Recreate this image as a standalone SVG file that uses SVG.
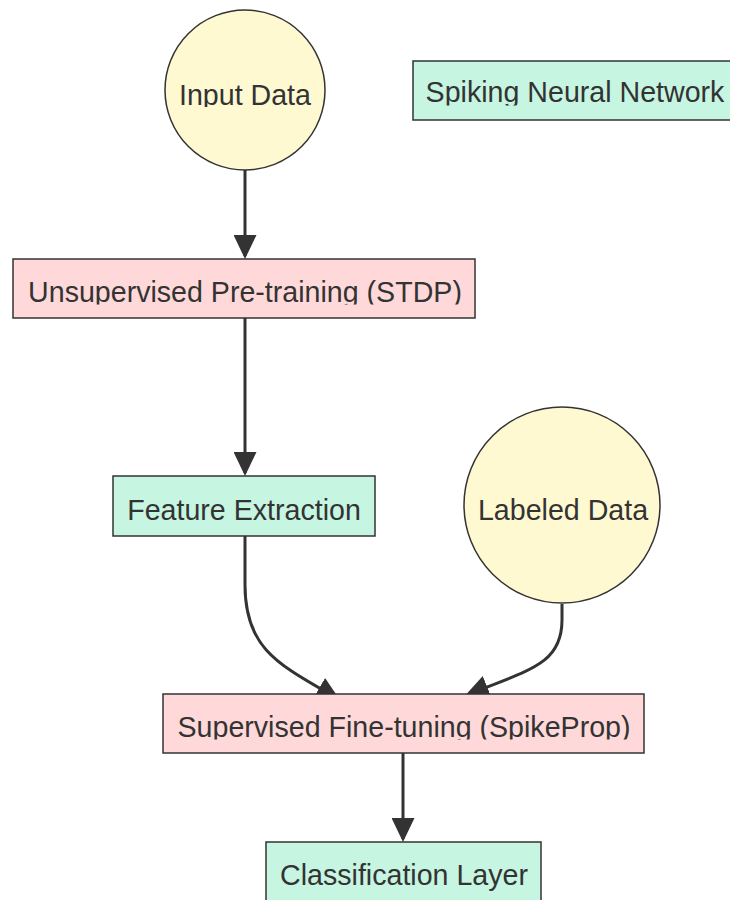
<svg xmlns="http://www.w3.org/2000/svg" width="730" height="900" viewBox="0 0 730 900">
  <style>
    .data { fill: #fff9d2; stroke: #333333; stroke-width: 1.5; }
    .stage { fill: #ffd9d9; stroke: #333333; stroke-width: 1.5; }
    .layer { fill: #c6f5e2; stroke: #333333; stroke-width: 1.5; }
    .label { font-family: "Liberation Sans", Arial, sans-serif; font-size: 28.6px; fill: #333333; text-anchor: middle; }
    .edge { fill: none; stroke: #333333; stroke-width: 3; stroke-linecap: butt; }
  </style>
  <defs>
    <marker id="arrow" markerUnits="userSpaceOnUse" markerWidth="24" markerHeight="23" refX="21" refY="11.5" orient="auto">
      <path d="M0,0 L24,11.5 L0,23 Z" fill="#333333"/>
    </marker>
    <!-- label boxes: descenders are trimmed just below the baseline -->
    <clipPath id="clip-input"><rect x="160" y="70" width="170" height="37"/></clipPath>
    <clipPath id="clip-snn"><rect x="415" y="70" width="315" height="35.5"/></clipPath>
    <clipPath id="clip-pre"><rect x="15" y="270" width="458" height="34.5"/></clipPath>
    <clipPath id="clip-feat"><rect x="115" y="490" width="258" height="34"/></clipPath>
    <clipPath id="clip-labeled"><rect x="465" y="490" width="195" height="34"/></clipPath>
    <clipPath id="clip-fine"><rect x="165" y="705" width="477" height="34.5"/></clipPath>
    <clipPath id="clip-class"><rect x="268" y="855" width="271" height="36"/></clipPath>
  </defs>

  <g id="edges">
    <path class="edge" d="M245,170 L245,256" marker-end="url(#arrow)"/>
    <path class="edge" d="M245,318 L245,473" marker-end="url(#arrow)"/>
    <path class="edge" d="M245,536 L245,585 C245,650 280,665 337.4,698.5" marker-end="url(#arrow)"/>
    <path class="edge" d="M562,604 L562,620 C562,665 528,670 467.7,694.7" marker-end="url(#arrow)"/>
    <path class="edge" d="M403,753 L403,839" marker-end="url(#arrow)"/>
  </g>

  <g id="input-data">
    <circle class="data" cx="245" cy="90" r="80"/>
    <text class="label" x="245" y="105" clip-path="url(#clip-input)">Input Data</text>
  </g>

  <g id="spiking-neural-network">
    <rect class="layer" x="413" y="61" width="330" height="59"/>
    <text class="label" x="575" y="102" clip-path="url(#clip-snn)">Spiking Neural Network</text>
  </g>

  <g id="unsupervised-pretraining">
    <rect class="stage" x="13" y="259" width="462" height="59"/>
    <text class="label" x="245" y="302" clip-path="url(#clip-pre)">Unsupervised Pre-training (STDP)</text>
  </g>

  <g id="feature-extraction">
    <rect class="layer" x="113" y="476" width="262" height="60"/>
    <text class="label" x="244" y="520" clip-path="url(#clip-feat)">Feature Extraction</text>
  </g>

  <g id="labeled-data">
    <circle class="data" cx="562" cy="505" r="98"/>
    <text class="label" x="563" y="520" clip-path="url(#clip-labeled)">Labeled Data</text>
  </g>

  <g id="supervised-finetuning">
    <rect class="stage" x="163" y="694" width="481" height="59"/>
    <text class="label" x="404" y="737" clip-path="url(#clip-fine)">Supervised Fine-tuning (SpikeProp)</text>
  </g>

  <g id="classification-layer">
    <rect class="layer" x="266" y="842" width="275" height="70"/>
    <text class="label" x="404" y="885" clip-path="url(#clip-class)">Classification Layer</text>
  </g>
</svg>
